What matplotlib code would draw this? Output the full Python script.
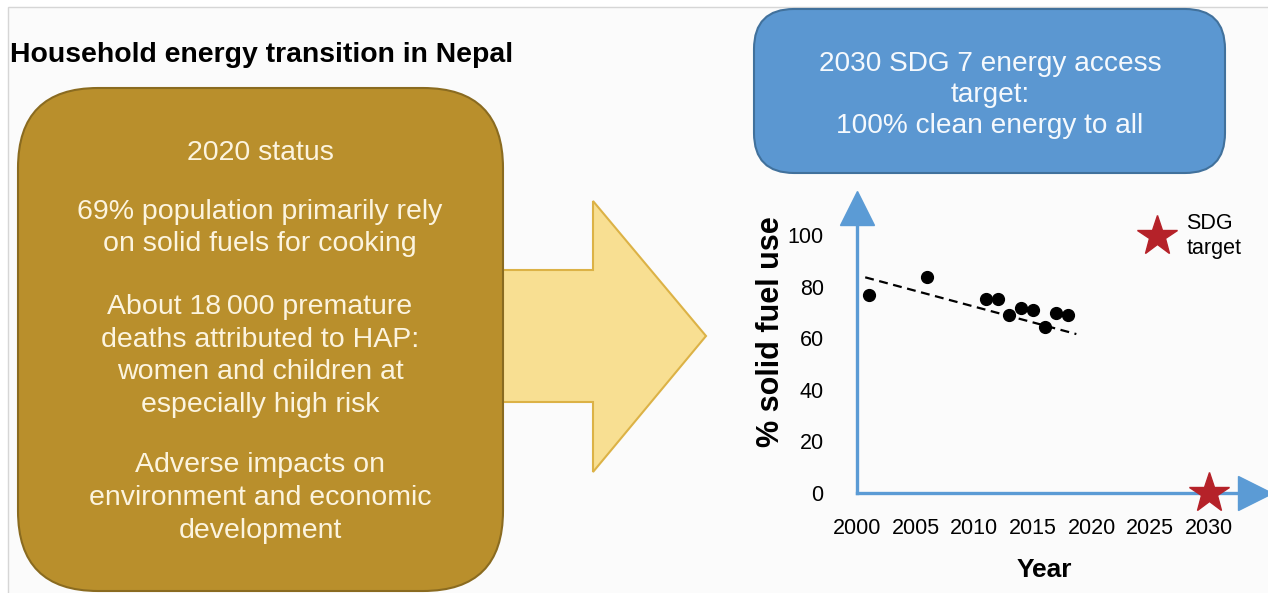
import matplotlib.pyplot as plt
from matplotlib.patches import FancyBboxPatch, Polygon, Rectangle
from matplotlib.lines import Line2D

# data
years = [2001, 2006, 2011, 2012, 2013, 2014, 2015, 2016, 2017, 2018]
solid_fuel = [76.7, 83.6, 75.1, 75.3, 69.0, 71.6, 70.9, 64.3, 69.9, 69.0]
trend_years = [2000.7, 2018.7]
trend_vals = [83.6, 61.6]
target_year = [2030]
target_val = [0]
xticks = [2000, 2005, 2010, 2015, 2020, 2025, 2030]
yticks = [0, 20, 40, 60, 80, 100]

title = "Household energy transition in Nepal"
status_paras = [
    "2020 status",
    "69% population primarily rely\non solid fuels for cooking",
    "About 18\u2009000 premature\ndeaths attributed to HAP:\nwomen and children at\nespecially high risk",
    "Adverse impacts on\nenvironment and economic\ndevelopment",
]
target_text = "2030 SDG 7 energy access\ntarget:\n100% clean energy to all"

plt.rcParams['font.family'] = ['Liberation Sans', 'DejaVu Sans']

W, H = 1268, 593
fig = plt.figure(figsize=(W / 100, H / 100), dpi=100, facecolor='white')

# background layer in pixel units
bg = fig.add_axes([0, 0, 1, 1])
bg.set_xlim(0, W)
bg.set_ylim(H, 0)
bg.axis('off')
bg.add_patch(Rectangle((8, 7), W, H, facecolor='#fbfbfb', edgecolor='#d6d6d6', lw=1))

bg.text(10, 55, title, fontsize=20.4, fontweight='bold', ha='left', va='center', color='black')

# yellow arrow
bg.add_patch(Polygon([(495, 270), (593, 270), (593, 201), (706, 336), (593, 472), (593, 402), (495, 402)],
                     closed=True, facecolor='#f8df92', edgecolor='#dcb246', lw=1.5, zorder=1))

# brown status box
bg.add_patch(FancyBboxPatch((18, 88), 485, 503, boxstyle='round,pad=0,rounding_size=80',
                            facecolor='#b98f2c', edgecolor='#8a6b20', lw=1.5, zorder=2))
para_y = [153, 228, 356, 498]
for txt, y in zip(status_paras, para_y):
    bg.text(260, y, txt, fontsize=20.5, ha='center', va='center', color='#fcf4df',
            linespacing=1.34, zorder=3)

# blue target box
bg.add_patch(FancyBboxPatch((754, 9), 471, 164, boxstyle='round,pad=0,rounding_size=40',
                            facecolor='#5b97d1', edgecolor='#41719c', lw=1.5, zorder=2))
bg.text(990, 95, target_text, fontsize=20.2, ha='center', va='center', color='#f5f9fd',
        linespacing=1.26, zorder=3)

# chart
x0, y0 = 857, 493
px_year, px_val = 11.73, 2.58
ax = fig.add_axes([x0 / W, (H - y0) / H, 32 * px_year / W, 105 * px_val / H])
ax.set_xlim(2000, 2032)
ax.set_ylim(0, 105)
ax.patch.set_alpha(0)
for s in ax.spines.values():
    s.set_visible(False)

axis_blue = '#5b9bd5'
ax.plot([2000, 2033], [0, 0], color=axis_blue, lw=2.4, clip_on=False, zorder=2)
ax.plot([2000, 2000], [0, 106], color=axis_blue, lw=2.4, clip_on=False, zorder=2)
ax.plot([2000], [110.5], marker='^', markersize=24, color=axis_blue, clip_on=False, zorder=2)
ax.plot([2033.9], [0], marker='>', markersize=24, color=axis_blue, clip_on=False, zorder=2)

ax.plot(trend_years, trend_vals, color='black', lw=1.6, dashes=(4, 2.5), zorder=3)
ax.plot(years, solid_fuel, 'o', color='black', markersize=8.5, zorder=4)
ax.plot(target_year, target_val, '*', color='#b52229', markersize=30, clip_on=False, zorder=5)

ax.set_xticks(xticks)
ax.set_yticks(yticks)
ax.tick_params(length=0, labelsize=15.5, pad=18)
ax.tick_params(axis='y', pad=24)
ax.set_ylabel('% solid fuel use', fontsize=22, fontweight='bold')
ax.yaxis.set_label_coords(-0.19, 0.594)
ax.set_xlabel('Year', fontsize=19, fontweight='bold', labelpad=14)

handle = Line2D([], [], marker='*', color='#b52229', linestyle='none', markersize=30)
leg = ax.legend([handle], ['SDG\ntarget'], loc='upper left', bbox_to_anchor=(0.727, 1.075),
                frameon=False, fontsize=15.5, handletextpad=0.63, borderpad=0, handlelength=1.5)
leg.get_texts()[0].set_linespacing(1.3)

fig.savefig('out.png', dpi=100, facecolor='white')
